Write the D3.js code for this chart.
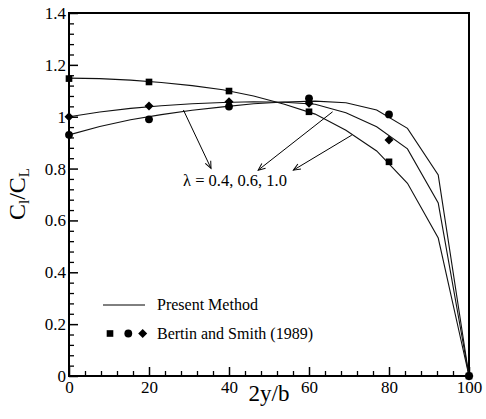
<!DOCTYPE html>
<html><head><meta charset="utf-8">
<script src="https://cdn.jsdelivr.net/npm/d3@7"></script>
<style>body{margin:0;background:#fff} text{font-family:"Liberation Serif","Times New Roman","DejaVu Serif",serif;fill:#000}</style>
</head><body><svg id="c" width="486" height="419"></svg>
<script>
// Present method stations (2y/b, %)
const stations = [0, 7.69, 15.38, 23.08, 30.77, 38.46, 46.15, 53.85, 61.54, 69.23, 76.92, 84.62, 92.31, 100];
const present04 = [1.149, 1.147, 1.141, 1.132, 1.120, 1.104, 1.080, 1.048, 1.010, 0.948, 0.868, 0.743, 0.532, 0];
const present06 = [1.000, 1.018, 1.032, 1.042, 1.050, 1.055, 1.058, 1.056, 1.048, 1.015, 0.961, 0.876, 0.667, 0];
const present10 = [0.930, 0.962, 0.988, 1.008, 1.025, 1.038, 1.050, 1.057, 1.060, 1.054, 1.026, 0.955, 0.775, 0];
// Bertin and Smith (1989)
const expX = [0, 20, 40, 60, 80, 100];
const exp04 = [1.147, 1.134, 1.099, 1.019, 0.826, 0];
const exp06 = [1.000, 1.041, 1.058, 1.052, 0.910, 0];
const exp10 = [0.930, 0.990, 1.039, 1.071, 1.009, 0];
// ticks
const xTicks = [0, 20, 40, 60, 80, 100];
const xTickLabels = ["0", "20", "40", "60", "80", "100"];
const yTicks = [0, 0.2, 0.4, 0.6, 0.8, 1.0, 1.2, 1.4];
const yTickLabels = ["0", "0.2", "0.4", "0.6", "0.8", "1", "1.2", "1.4"];
const xMinor = d3.range(0, 101, 4).filter(v => v % 20 !== 0);
const yMinor = d3.range(0, 36).map(i => +(i * 0.04).toFixed(2)).filter(v => Math.abs(v / 0.2 - Math.round(v / 0.2)) > 1e-6);
// annotation arrows: [x1,y1,x2,y2] in data units
const arrows = [[28.6, 1.026, 35.5, 0.801], [65.9, 1.019, 47.3, 0.794], [70.7, 0.929, 56.1, 0.794]];
const annot = {x: 28.5, y: 0.733, text: "\u03bb = 0.4, 0.6, 1.0"};

const svg = d3.select("#c");
const x = d3.scaleLinear().domain([0, 100]).range([69, 469]);
const y = d3.scaleLinear().domain([0, 1.4]).range([376, 13]);
const FONT = "Liberation Serif, Times New Roman, serif";

// minor ticks
svg.append("g").attr("transform", "translate(69,0)")
  .call(d3.axisLeft(y).tickValues(yMinor).tickSize(-5).tickFormat(""))
  .call(g => g.select(".domain").remove())
  .selectAll("line").attr("stroke", "#000").attr("stroke-width", 1.3);
svg.append("g").attr("transform", "translate(0,376)")
  .call(d3.axisBottom(x).tickValues(xMinor).tickSize(-5).tickFormat(""))
  .call(g => g.select(".domain").remove())
  .selectAll("line").attr("stroke", "#000").attr("stroke-width", 1.3);
// major ticks
const ya = svg.append("g").attr("transform", "translate(69,0)")
  .call(d3.axisLeft(y).tickValues(yTicks).tickSize(-9).tickPadding(3).tickFormat((d, i) => yTickLabels[i]));
ya.attr("font-family", FONT);
ya.select(".domain").remove();
ya.selectAll("line").attr("stroke", "#000").attr("stroke-width", 1.5);
ya.selectAll("text").attr("font-size", 17).attr("fill", "#000");
const xa = svg.append("g").attr("transform", "translate(0,376)")
  .call(d3.axisBottom(x).tickValues(xTicks).tickSize(-9).tickPadding(5).tickFormat((d, i) => xTickLabels[i]));
xa.attr("font-family", FONT);
xa.select(".domain").remove();
xa.selectAll("line").attr("stroke", "#000").attr("stroke-width", 1.5);
xa.selectAll("text").attr("font-size", 17).attr("fill", "#000");

// frame
svg.append("rect").attr("x", x(0)).attr("y", y(1.4)).attr("width", x(100) - x(0)).attr("height", y(0) - y(1.4))
  .attr("fill", "none").attr("stroke", "#000").attr("stroke-width", 2);

// curves
const line = d3.line().x(d => x(d[0])).y(d => y(d[1]));
[present04, present06, present10].forEach(s => {
  svg.append("path").datum(stations.map((v, i) => [v, s[i]])).attr("d", line)
    .attr("fill", "none").attr("stroke", "#111").attr("stroke-width", 1.1);
});

// markers
const sq = d3.symbol().type(d3.symbolSquare).size(44);
const ci = d3.symbol().type(d3.symbolCircle).size(48);
const di = "M0,-4.5L4.5,0L0,4.5L-4.5,0Z";
function drawMarkers(vals, sym) {
  svg.append("g").selectAll("path").data(expX.map((v, i) => [v, vals[i]])).join("path")
    .attr("transform", d => `translate(${x(d[0])},${y(d[1])})`).attr("d", sym).attr("fill", "#000");
}
drawMarkers(exp04, sq);
drawMarkers(exp06, di);
drawMarkers(exp10, ci);

// arrows
svg.append("defs").append("marker").attr("id", "ah").attr("viewBox", "-8 -5 10 10")
  .attr("refX", 0).attr("refY", 0).attr("markerWidth", 10).attr("markerHeight", 10)
  .attr("markerUnits", "userSpaceOnUse").attr("orient", "auto")
  .append("path").attr("d", "M-7,-3 L0,0 L-7,3").attr("fill", "none").attr("stroke", "#000").attr("stroke-width", 1);
svg.append("g").selectAll("line").data(arrows).join("line")
  .attr("x1", d => x(d[0])).attr("y1", d => y(d[1])).attr("x2", d => x(d[2])).attr("y2", d => y(d[3]))
  .attr("stroke", "#000").attr("stroke-width", 1).attr("marker-end", "url(#ah)");
svg.append("text").attr("x", x(annot.x)).attr("y", y(annot.y)).attr("font-size", 16.5).text(annot.text);

// axis titles
svg.append("text").attr("x", x(50)).attr("y", 401).attr("text-anchor", "middle").attr("font-size", 23).text("2y/b");
const yt = svg.append("text").attr("transform", `translate(25,194) rotate(-90)`)
  .attr("text-anchor", "middle").attr("font-size", 24);
yt.append("tspan").text("C");
yt.append("tspan").attr("font-size", 15).attr("dy", 4).text("l");
yt.append("tspan").attr("dy", -4).text("/C");
yt.append("tspan").attr("font-size", 15).attr("dy", 4).text("L");

// legend
const lg = svg.append("g");
lg.append("line").attr("x1", 103).attr("x2", 145).attr("y1", 305).attr("y2", 305).attr("stroke", "#000").attr("stroke-width", 1);
lg.append("text").attr("x", 157).attr("y", 309.5).attr("font-size", 16).text("Present Method");
lg.append("path").attr("transform", "translate(110,333.5)").attr("d", sq);
lg.append("path").attr("transform", "translate(128.3,333.5)").attr("d", ci);
lg.append("path").attr("transform", "translate(142.7,333.5)").attr("d", di);
lg.append("text").attr("x", 157).attr("y", 338.5).attr("font-size", 16).text("Bertin and Smith (1989)");
</script></body></html>
